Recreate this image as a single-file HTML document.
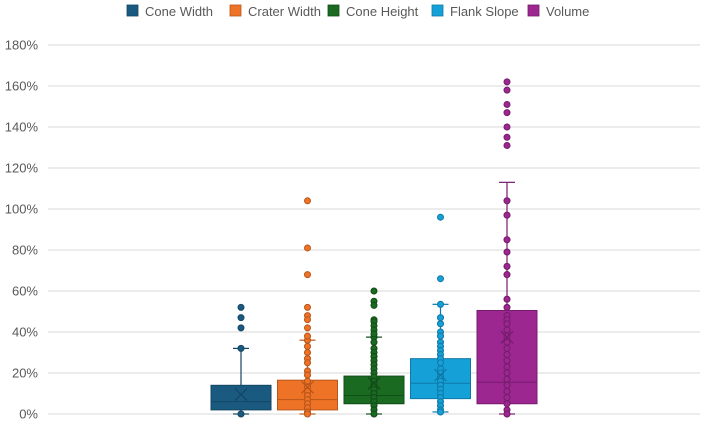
<!DOCTYPE html>
<html><head><meta charset="utf-8"><style>
body{margin:0;background:#fff;font-family:"Liberation Sans",sans-serif}
</style></head><body>
<svg id="c" width="706" height="423" xmlns="http://www.w3.org/2000/svg"></svg>
<script>
const categories=["Cone Width","Crater Width","Cone Height","Flank Slope","Volume"];
const colors=["#1b5a80","#ee7326","#1a6a22","#16a0d8","#9c2790"];
const dark=["#134663","#b8561a","#124d18","#0f7aa8","#761c6c"];
const q1=[2,2,5,7.5,5];
const median=[6,7,9,15,15.5];
const q3=[14,16.5,18.5,27,50.5];
const means=[9.5,13,15,19,37.5];
const whiskerLow=[0,0,0,1,0];
const whiskerHigh=[32,36,37.5,53.5,113];
const outliers=[[52,47,42],[104,81,68,52,48,46,42,38],[60,55,53,46,45,43,41,39],[96,66],[162,158,151,147,140,135,131]];
const innerPoints=[[32,0],[36,33,30,27,25,21,19,16,13,11,9,7,5,3,1,0],[37.5,35,32,30,28,26,24,22,20,18,16,14,12,10,8,6,4,2,0],[53.5,47,44,40,38,35,33,31,29,27,25,22,20,18,16,14,12,10,8,6,4,2,1],[104,97,85,79,72,68,56,52,48,46,44,41,38,35,32,29,26,23,20,17,14,11,8,5,2,0]];
const yTicks=[0,20,40,60,80,100,120,140,160,180];
const NS="http://www.w3.org/2000/svg";
const svg=document.getElementById("c");
const y0=414,pxPer=2.05;
const y=v=>y0-v*pxPer;
const xc=i=>241+i*66.5;
const bw=60;
function mk(tag,attrs,parent){const e=document.createElementNS(NS,tag);for(const k in attrs)e.setAttribute(k,attrs[k]);(parent||svg).appendChild(e);return e;}
yTicks.forEach(t=>{
 const l=mk("line",{x1:48,x2:700,y1:y(t),y2:y(t),stroke:"#d9d9d9","stroke-width":1});
 
 
 const tx=mk("text",{x:38,y:y(t)+4.5,"text-anchor":"end","font-size":13,fill:"#595959"});
 tx.textContent=t+"%";
 
 
});
categories.forEach((c,i)=>{
 const g=mk("g",{});
 
 
 const x=xc(i);
 mk("line",{x1:x,x2:x,y1:y(whiskerHigh[i]),y2:y(q3[i]),stroke:dark[i],"stroke-width":1.2},g);
 mk("line",{x1:x,x2:x,y1:y(q1[i]),y2:y(whiskerLow[i]),stroke:dark[i],"stroke-width":1.2},g);
 mk("line",{x1:x-8,x2:x+8,y1:y(whiskerHigh[i]),y2:y(whiskerHigh[i]),stroke:dark[i],"stroke-width":1.2},g);
 mk("line",{x1:x-8,x2:x+8,y1:y(whiskerLow[i]),y2:y(whiskerLow[i]),stroke:dark[i],"stroke-width":1.2},g);
 mk("rect",{x:x-bw/2,y:y(q3[i]),width:bw,height:y(q1[i])-y(q3[i]),fill:colors[i],stroke:dark[i],"stroke-width":1},g);
 mk("line",{x1:x-bw/2,x2:x+bw/2,y1:y(median[i]),y2:y(median[i]),stroke:dark[i],"stroke-width":1},g);
 innerPoints[i].forEach(v=>mk("circle",{cx:x,cy:y(v),r:3,fill:colors[i],stroke:dark[i],"stroke-width":1.1},g));
 outliers[i].forEach(v=>mk("circle",{cx:x,cy:y(v),r:3,fill:colors[i],stroke:dark[i],"stroke-width":1},g));
 const m=y(means[i]);
 mk("path",{d:`M${x-6} ${m-6}L${x+6} ${m+6}M${x+6} ${m-6}L${x-6} ${m+6}`,stroke:dark[i],"stroke-width":1.3,fill:"none"},g);
});
const lx=[127,230,328,432,528];
categories.forEach((c,i)=>{
 const g=mk("g",{});
 
 
 mk("rect",{x:lx[i],y:5,width:11,height:11,fill:colors[i],stroke:dark[i],"stroke-width":0.8},g);
 const t=mk("text",{x:lx[i]+18,y:16,"font-size":13,fill:"#595959"},g);
 t.textContent=c;
});
</script>
</body></html>
